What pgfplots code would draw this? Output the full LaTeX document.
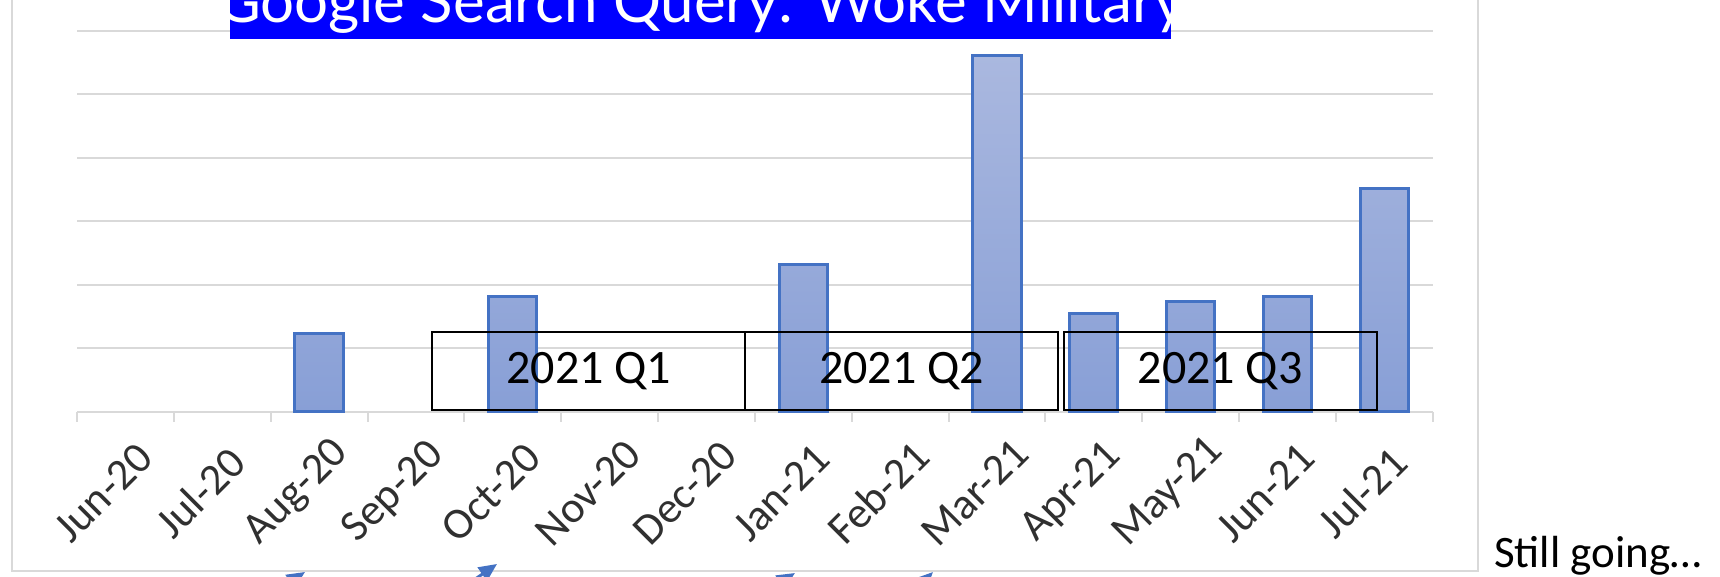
\documentclass[border=0pt]{standalone}
\usepackage{fontspec}
\setmainfont{Carlito}
\newfontfamily\titlefont{Lato}
\usepackage{pgfplots}
\pgfplotsset{compat=1.18}
\usetikzlibrary{arrows.meta}
\definecolor{gridgray}{HTML}{D9D9D9}
\definecolor{barEdge}{HTML}{4472C4}
\definecolor{barTop}{HTML}{AAB8DF}
\definecolor{barBot}{HTML}{889FD6}
\definecolor{titleblue}{HTML}{0000FF}
\definecolor{labgray}{HTML}{303030}
\newcommand\tlfont{\fontsize{22pt}{26pt}\selectfont}
\begin{document}
\begin{tikzpicture}[x=1pt,y=1pt]
\useasboundingbox (0,0) rectangle (860,288.5);
\clip (0,0) rectangle (860,288.5);
\fill[white] (0,0) rectangle (860,288.5);
\draw[gridgray, line width=1.25pt] (6,300) -- (6,3) -- (739,3) -- (739,300);
\begin{axis}[
  at={(38.5pt,82.65pt)}, anchor=south west,
  scale only axis, width=677.85pt, height=190.35pt,
  xmin=-0.5, xmax=13.5, ymin=0, ymax=6,
  ybar, bar width=0.5,
  axis x line*=bottom, axis y line*=left,
  y axis line style={draw=none},
  x axis line style={draw=gridgray, line width=1pt},
  xtick={0,...,13},
  xticklabels={Jun-20,Jul-20,Aug-20,Sep-20,Oct-20,Nov-20,Dec-20,Jan-21,Feb-21,Mar-21,Apr-21,May-21,Jun-21,Jul-21},
  minor xtick={-0.5,0.5,...,13.5},
  major tick length=0pt, minor tick length=5pt,
  minor tick style={draw=gridgray, line width=1pt},
  tick align=outside,
  ytick={1,...,6}, yticklabels={},
  ymajorgrids, major grid style={draw=gridgray, line width=1pt},
  xticklabel style={xshift=-11pt, yshift=-40.5pt, rotate=45, anchor=center, inner sep=0pt,
    font=\tlfont, execute at begin node=\tlfont, text=labgray},
  clip=false,
]
\addplot[draw=barEdge, line width=1.5pt, top color=barTop, bottom color=barBot, bar shift=0pt]
  coordinates {(2,1.23) (4,1.82) (7,2.32) (9,5.62) (10,1.54) (11,1.73) (12,1.81) (13,3.52)};
\draw[black, line width=1pt] (axis cs:3.17,0.03) rectangle (axis cs:6.40,1.25);
\draw[black, line width=1pt] (axis cs:6.40,0.03) rectangle (axis cs:9.63,1.25);
\draw[black, line width=1pt] (axis cs:9.69,0.03) rectangle (axis cs:12.92,1.25);
\node[font=\fontsize{24pt}{28pt}\selectfont] at (axis cs:4.785,0.64) {2021 Q1};
\node[font=\fontsize{24pt}{28pt}\selectfont] at (axis cs:8.015,0.64) {2021 Q2};
\node[font=\fontsize{24pt}{28pt}\selectfont] at (axis cs:11.305,0.64) {2021 Q3};
\end{axis}
\fill[titleblue] (115,269) rectangle (585.5,300);
\node[anchor=base, text=white, inner sep=0pt] at (350.5,277)
  {\titlefont\fontsize{30pt}{32pt}\selectfont Google Search Query: Woke Military};
\node[anchor=base west, inner sep=0pt] at (746.8,4.5)
  {\fontsize{22.5pt}{26pt}\selectfont Still going…};
\draw[barEdge, line width=1.5pt, -{Triangle[length=9pt,width=8pt]}] (131,-11.5) -- (152.5,2.5);
\draw[barEdge, line width=1.5pt, -{Triangle[length=9pt,width=8pt]}] (222.5,-11.5) -- (248.5,6.5);
\draw[barEdge, line width=1.5pt, -{Triangle[length=9pt,width=8pt]}] (376,-11.5) -- (397.5,2);
\draw[barEdge, line width=1.5pt, -{Triangle[length=9pt,width=8pt]}] (452.5,-11.5) -- (466.5,2.5);
\end{tikzpicture}
\end{document}
